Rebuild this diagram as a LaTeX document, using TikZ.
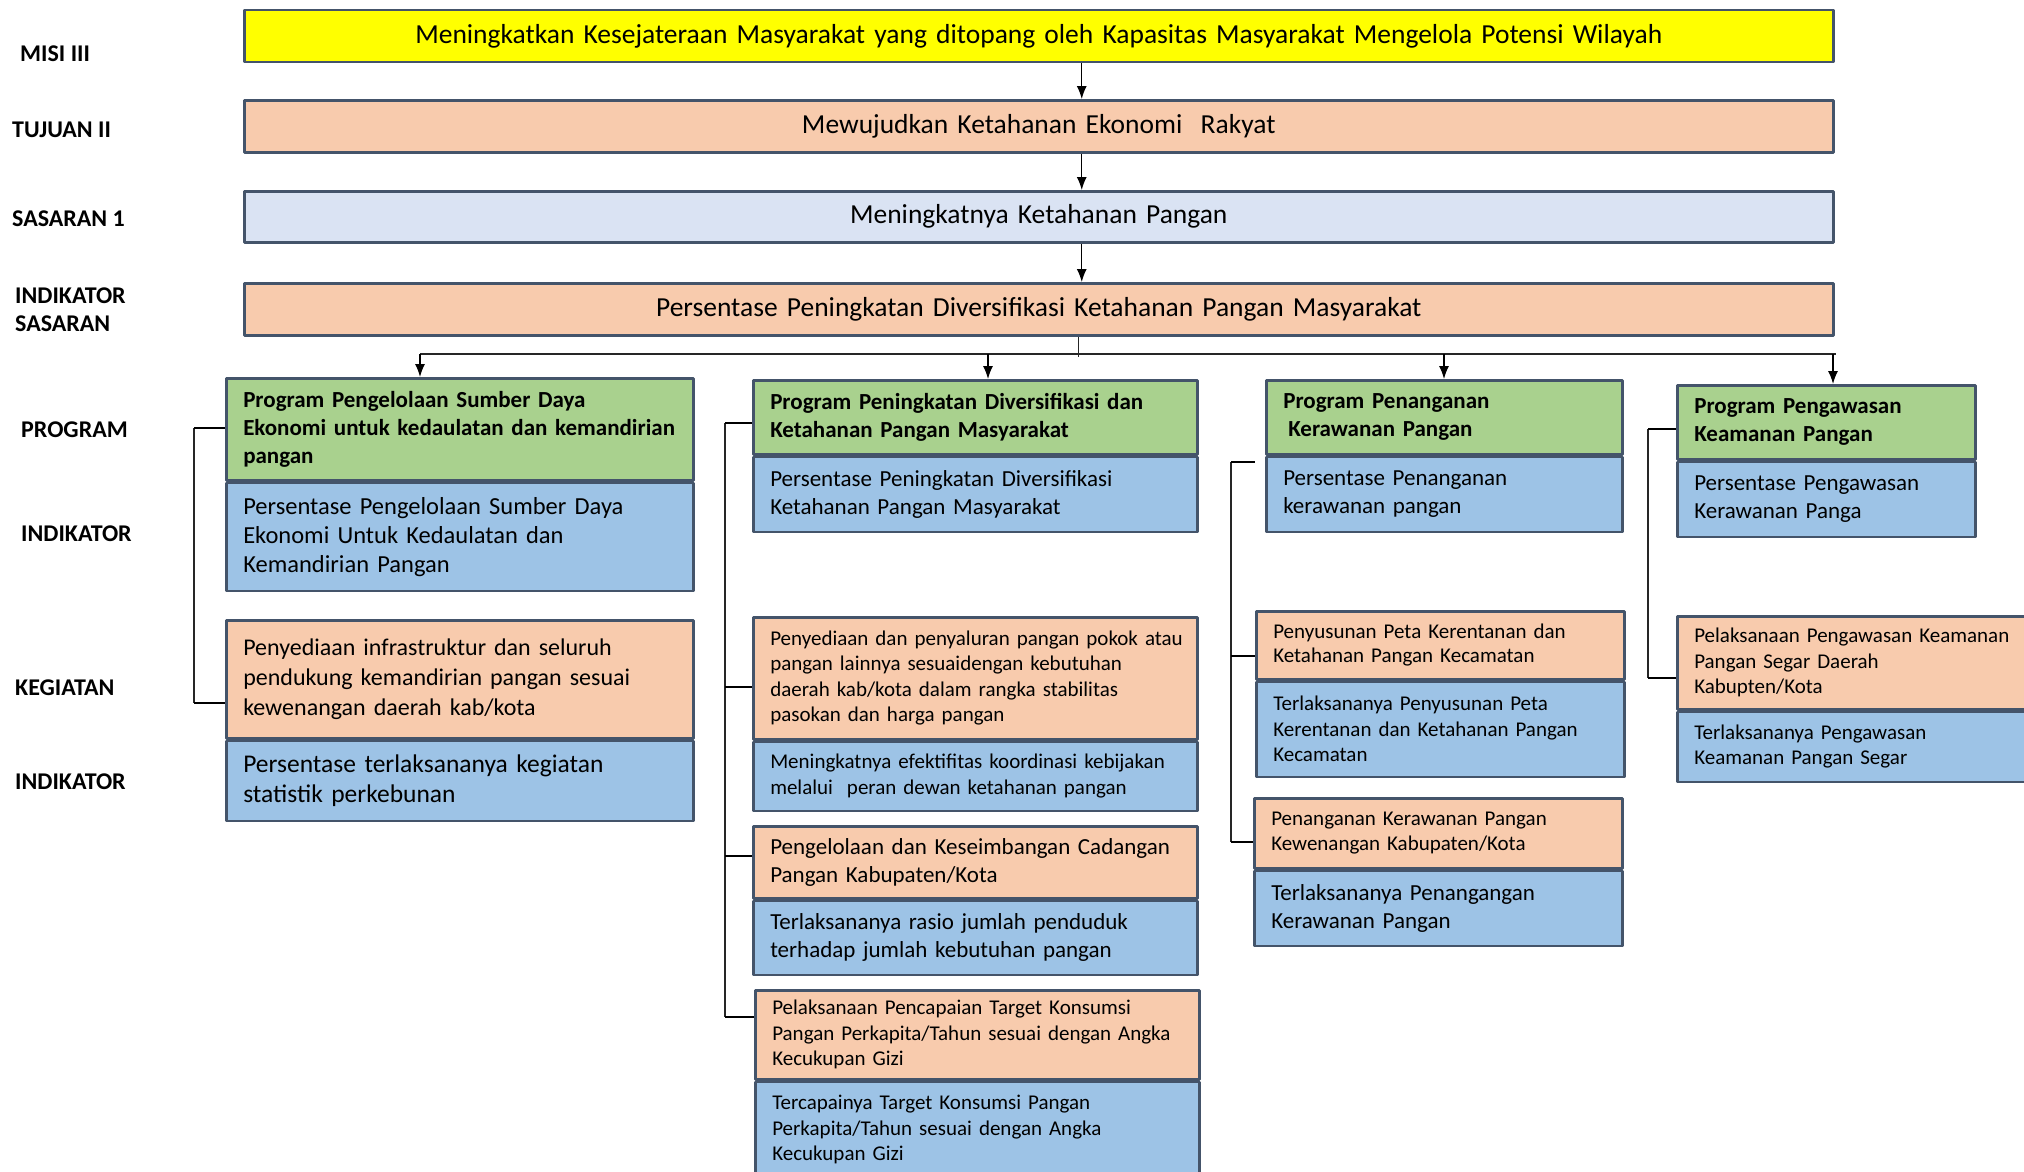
\documentclass[tikz,border=0pt]{standalone}
\usepackage{fontspec}
\setmainfont{Carlito}
\usetikzlibrary{arrows.meta}
\definecolor{kuning}{HTML}{FFFF00}
\definecolor{jingga}{HTML}{F8CBAD}
\definecolor{birumuda}{HTML}{DAE3F3}
\definecolor{hijau}{HTML}{A9D18E}
\definecolor{biru}{HTML}{9DC3E6}
\definecolor{garis}{HTML}{44546A}
\newcommand{\fbesar}{\fontsize{27.5}{33}\selectfont}
\newcommand{\fsedang}{\fontsize{23}{28}\selectfont}
\newcommand{\fkecil}{\fontsize{21}{25.5}\selectfont}
\begin{document}
\begin{tikzpicture}[>={Latex[length=13pt,width=10pt]},line join=round,x=1pt,y=-1pt]
	\tikzset{
		kotak/.style={draw=garis,line width=2.5pt,anchor=north west,inner xsep=17pt,inner ysep=0pt,align=left},
		atas/.style={kotak,minimum width=1589pt,text width=1555pt,minimum height=52pt,align=center,font=\fbesar},
		kprog/.style={kotak,fill=hijau,font=\bfseries\fsedang},
		kind/.style={kotak,fill=biru,font=\fsedang},
		kkeg/.style={kotak,fill=jingga,font=\fkecil},
		kol1/.style={minimum width=467pt,text width=433pt},
		kol2/.style={minimum width=444pt,text width=410pt},
		kol3/.style={minimum width=356pt,text width=322pt},
		kol3b/.style={minimum width=368pt,text width=334pt},
		kol4/.style={minimum width=298pt,text width=264pt},
		kol4b/.style={minimum width=356pt,text width=322pt},
		tingkat/.style={anchor=west,align=left,inner sep=0pt,font=\bfseries\fontsize{24}{28}\selectfont},
		rel/.style={line width=1.3pt,black!85},
		tik/.style={line width=2.6pt,black},
		panah/.style={->,line width=1.3pt}
	}
	\useasboundingbox (0,0) rectangle (2024,1172);
	\node[atas,fill=kuning] (misi) at (243,9) {Meningkatkan Kesejateraan Masyarakat yang ditopang oleh Kapasitas Masyarakat Mengelola Potensi Wilayah};
	\node[atas,fill=jingga] (tujuan) at (243,99) {Mewujudkan Ketahanan Ekonomi\ \ Rakyat};
	\node[atas,fill=birumuda,minimum height=51pt] (sasaran) at (243,190) {Meningkatnya Ketahanan Pangan};
	\node[atas,fill=jingga] (indsas) at (243,282) {Persentase Peningkatan Diversifikasi Ketahanan Pangan Masyarakat};
	
	\node[tingkat] (lmisi) at (20,54) {MISI III};
	\node[tingkat] (ltujuan) at (12,130) {TUJUAN II};
	\node[tingkat] (lsasaran) at (12,219) {SASARAN 1};
	\node[tingkat] (lindsas) at (15,310) {INDIKATOR\\SASARAN};
	\node[tingkat] (lprog) at (21,430) {PROGRAM};
	\node[tingkat] (lind) at (21,534) {INDIKATOR};
	\node[tingkat] (lkeg) at (15,688) {KEGIATAN};
	\node[tingkat] (lindkeg) at (15,782) {INDIKATOR};
	
	\node[kprog,kol1,minimum height=102pt] (prog1) at (225,377) {Program Pengelolaan Sumber Daya\\Ekonomi untuk kedaulatan dan kemandirian\\pangan};
	\node[kind,kol1,minimum height=108pt,font=\fontsize{24.5}{29}\selectfont] (ind1) at (prog1.south west) {Persentase Pengelolaan Sumber Daya\\Ekonomi Untuk Kedaulatan dan\\Kemandirian Pangan};
	\node[kkeg,kol1,minimum height=118pt,font=\fontsize{24}{30}\selectfont] (keg1) at (225,619) {Penyediaan infrastruktur dan seluruh\\pendukung kemandirian pangan sesuai\\kewenangan daerah kab/kota};
	\node[kind,kol1,minimum height=80pt,font=\fontsize{25.5}{30}\selectfont] (indkeg1) at (keg1.south west) {Persentase terlaksananya kegiatan\\statistik perkebunan};
	
	\node[kprog,kol2,minimum height=74pt] (prog2) at (752,379) {Program Peningkatan Diversifikasi dan\\Ketahanan Pangan Masyarakat};
	\node[kind,kol2,minimum height=75pt] (ind2) at (prog2.south west) {Persentase Peningkatan Diversifikasi\\Ketahanan Pangan Masyarakat};
	\node[kkeg,kol2,minimum height=122pt] (keg21) at (752,616) {\mbox{Penyediaan dan penyaluran pangan pokok atau}\\pangan lainnya sesuaidengan kebutuhan\\daerah kab/kota dalam rangka stabilitas\\pasokan dan harga pangan};
	\node[kind,kol2,minimum height=69pt,font=\fkecil] (indkeg21) at (keg21.south west) {Meningkatnya efektifitas koordinasi kebijakan\\melalui\ \ peran dewan ketahanan pangan};
	\node[kkeg,kol2,minimum height=72pt,font=\fontsize{23}{27.5}\selectfont] (keg22) at (752,825) {Pengelolaan dan Keseimbangan Cadangan\\Pangan Kabupaten/Kota};
	\node[kind,kol2,minimum height=74pt] (indkeg22) at (keg22.south west) {Terlaksananya rasio jumlah penduduk\\terhadap jumlah kebutuhan pangan};
	\node[kkeg,kol2,minimum height=89pt] (keg23) at (754,989) {Pelaksanaan Pencapaian Target Konsumsi\\Pangan Perkapita/Tahun sesuai dengan Angka\\Kecukupan Gizi};
	\node[kind,kol2,minimum height=96pt,font=\fkecil] (indkeg23) at (keg23.south west) {Tercapainya Target Konsumsi Pangan\\Perkapita/Tahun sesuai dengan Angka\\Kecukupan Gizi};
	
	\node[kprog,kol3,minimum height=74pt] (prog3) at (1265,379) {Program Penanganan\\\hspace*{5pt}Kerawanan Pangan};
	\node[kind,kol3,minimum height=75pt] (ind3) at (prog3.south west) {Persentase Penanganan\\kerawanan pangan};
	\node[kkeg,kol3b,minimum height=68pt,font=\fontsize{21}{24}\selectfont] (keg31) at (1255,610) {Penyusunan Peta Kerentanan dan\\Ketahanan Pangan Kecamatan};
	\node[kind,kol3b,minimum height=95pt,font=\fkecil] (indkeg31) at (keg31.south west) {Terlaksananya Penyusunan Peta\\Kerentanan dan Ketahanan Pangan\\Kecamatan};
	\node[kkeg,kol3b,minimum height=70pt] (keg32) at (1253,797) {Penanganan Kerawanan Pangan\\Kewenangan Kabupaten/Kota};
	\node[kind,kol3b,minimum height=75pt] (indkeg32) at (keg32.south west) {Terlaksananya Penangangan\\Kerawanan Pangan};
	
	\node[kprog,kol4,minimum height=74pt] (prog4) at (1676,384) {Program Pengawasan\\Keamanan Pangan};
	\node[kind,kol4,minimum height=75pt] (ind4) at (prog4.south west) {Persentase Pengawasan\\Kerawanan Panga};
	\node[kkeg,kol4b,minimum height=93pt] (keg4) at (1676,615) {Pelaksanaan Pengawasan Keamanan\\Pangan Segar Daerah\\Kabupten/Kota};
	\node[kind,kol4b,minimum height=70pt,font=\fkecil] (indkeg4) at (keg4.south west) {Terlaksananya Pengawasan\\Keamanan Pangan Segar};
	
	\foreach \a/\b in {misi/tujuan,tujuan/sasaran,sasaran/indsas}{
		\draw[panah] ([xshift=43pt]\a.south) -- ([xshift=43pt]\b.north);
	}
	\draw[rel] ([xshift=40pt]indsas.south) -- ++(0,20) coordinate (cabang);
	\coordinate (kiri) at (420,354);
	\coordinate (kanan) at (1836,354);
	\draw[rel] (kiri) -- (kanan);
	\foreach \x/\n in {420/prog1,988/prog2,1444/prog3,1833/prog4}{
		\draw[panah] (\x,354) -- (\x,354 |- \n.north);
	}
	
	\draw[rel] (194,428) -- (194,703);
	\foreach \y/\n in {428/prog1,703/keg1}{
		\draw[tik] (194,\y) -- (\n.west |- 194,\y);
	}
	\draw[rel] (725,423) -- (725,1017);
	\foreach \y/\n in {423/prog2,687/keg21,856/keg22,1017/keg23}{
		\draw[tik] (725,\y) -- (\n.west |- 725,\y);
	}
	\draw[rel] (1231,462) -- (1231,842);
	\foreach \y/\n/\s in {462/ind3/10pt,656/keg31/0pt,842/keg32/0pt}{
		\draw[tik,shorten >=\s] (1231,\y) -- (\n.west |- 1231,\y);
	}
	\draw[rel] (1648,429) -- (1648,678);
	\foreach \y/\n in {429/prog4,678/keg4}{
		\draw[tik] (1648,\y) -- (\n.west |- 1648,\y);
	}
\end{tikzpicture}
\end{document}
